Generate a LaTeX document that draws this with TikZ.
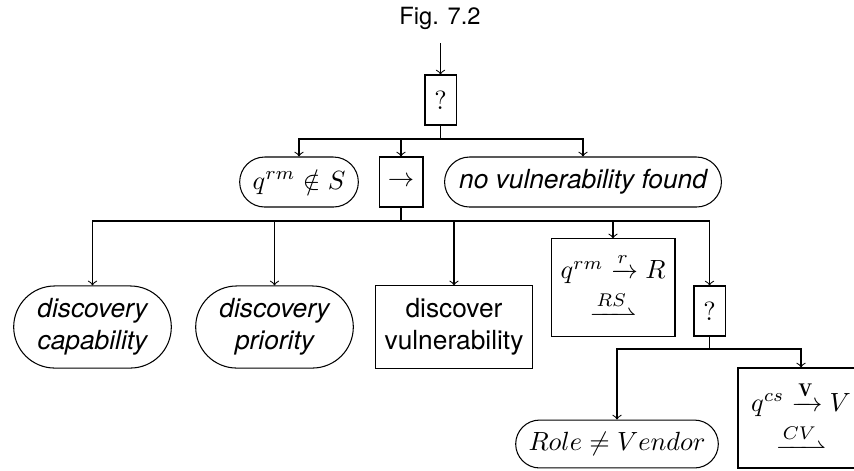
\documentclass[tikz,border=0pt]{standalone}
\usepackage{fontspec}
\setsansfont{TeX Gyre Heros}
\usepackage{mathtools}
\usetikzlibrary{shapes.misc}

\begin{document}
\begin{tikzpicture}[x=0.38pt, y=-0.38pt, >=to,
every node/.style={align=center, inner sep=1pt},
sel/.style={draw, minimum width=11.8pt, minimum height=19pt, font=\rmfamily},
cond/.style={draw, rounded rectangle, font=\sffamily\itshape},
act/.style={draw, rectangle, font=\sffamily}]
\useasboundingbox (0,0) rectangle (854,470);
%================================================================
%	Nodes
\node[font=\sffamily\small] (title) at (440,18) {Fig. 7.2};
\coordinate (in) at (440.5,43);

\node[sel] (root) at (440.5,100) {?};

\node[cond, minimum width=47.1pt, minimum height=19pt] (notin) at (299,182) {$q^{rm} \notin S$};
\node[sel, minimum width=16.7pt] (seq) at (401,182) {$\rightarrow$};
\node[cond, minimum width=107.2pt, minimum height=19pt] (novuln) at (583,182) {no vulnerability found};

%----------------------------------------------------------------
\node[cond, minimum width=61.9pt, minimum height=31.2pt] (cap) at (92.5,327) {discovery\\capability};
\node[cond, minimum width=61.9pt, minimum height=31.2pt] (prio) at (274.5,327) {discovery\\priority};
\node[act, minimum width=60pt, minimum height=31.2pt] (disc) at (454,327) {discover\\vulnerability};
\node[act, minimum width=47.1pt, minimum height=36.9pt] (rs) at (613,287.5) {$q^{rm} \xrightarrow{r} R$\\[2pt] $\xrightharpoonup{RS}$};
\node[sel] (sel2) at (709.5,311) {?};

%----------------------------------------------------------------
\node[cond, font=\normalfont, minimum width=79pt, minimum height=18.2pt] (role) at (617,444) {$Role \neq Vendor$};
\node[act, minimum width=47.9pt, minimum height=38pt] (cv) at (801,418) {$q^{cs} \xrightarrow{\mathbf{V}} V$\\[2pt] $\xrightharpoonup{CV}$};

%----------------------------------------------------------------
\coordinate (bus1) at (0,139);
\coordinate (bus2) at (0,221);
\coordinate (bus3) at (0,349);
%================================================================
%	Lines
\draw[->] (in) -- (root);

\draw[->] (root.south) -- (root.south |- bus1) -| (notin.north);
\draw[->] (root.south) -- (root.south |- bus1) -| (seq.north);
\draw[->] (root.south) -- (root.south |- bus1) -| (novuln.north);

\draw[->] (seq.south) -- (seq.south |- bus2) -| (cap.north);
\draw[->] (seq.south) -- (seq.south |- bus2) -| (prio.north);
\draw[->] (seq.south) -- (seq.south |- bus2) -| (disc.north);
\draw[->] (seq.south) -- (seq.south |- bus2) -| (rs.north);
\draw[->] (seq.south) -- (seq.south |- bus2) -| (sel2.north);

\draw[->] (sel2.south) -- (sel2.south |- bus3) -| (role.north);
\draw[->] (sel2.south) -- (sel2.south |- bus3) -| (cv.north);
%================================================================
\end{tikzpicture}
\end{document}
